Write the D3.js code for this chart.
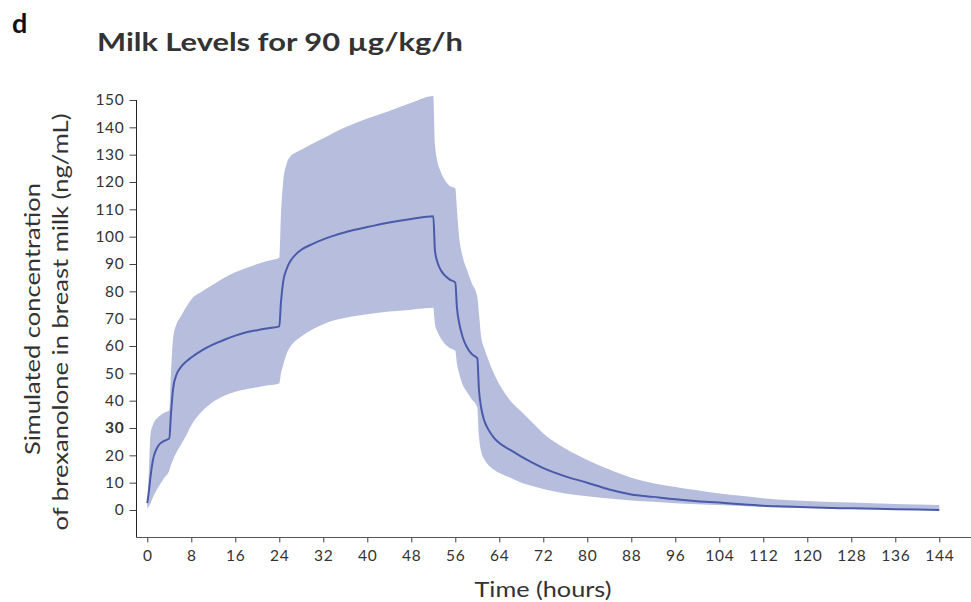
<!DOCTYPE html>
<html><head><meta charset="utf-8">
<script src="https://cdn.jsdelivr.net/npm/d3@7/dist/d3.min.js"></script>
<style>
html,body{margin:0;padding:0;background:#fff;}
svg{display:block;font-family:Lato,"Open Sans",sans-serif;}
</style></head>
<body>
<svg id="c" width="971" height="602"></svg>
<script>
// Time grid (hours)
const timeHours = [0,0.3,0.6,1,2,3,4,4.3,4.7,5.3,6,7,8,10,12,14,16,18,20,22,24,24.3,24.7,25.3,26,27,28,30,32,36,40,44,48,52,52.3,52.7,53.3,54,55,56,56.3,56.7,57.3,58,59,60,60.3,60.7,61.3,62,63,64,66,68,70,72,76,80,84,88,92,96,100,104,108,112,116,120,128,136,144];
// Mean simulated concentration (ng/mL)
const meanConc = [2.5,7,12.5,18,23.5,25.2,26.2,35,44.5,49.5,52,54.2,55.8,58.5,60.6,62.3,63.8,65,65.8,66.5,67.2,76,83.5,88,91,93.5,95.2,97.3,99,101.6,103.5,105.2,106.5,107.5,95,91,88,86,84.3,83.2,74,68.5,63.5,60,57,55.5,44,37.5,32.5,29.5,26.5,24.5,22,19.5,17.3,15.3,12.3,10,7.5,5.7,4.8,3.9,3.2,2.7,2.1,1.6,1.3,1.0,0.6,0.3,0];
// Upper bound of band
const upperConc = [2.5,15,28,31,34,35.5,36.5,50,63,68,70.5,74,77,80,82.5,85,87,88.5,90,91.2,92.3,108,120,126.5,129.3,130.8,131.8,134,136,140,143.2,146,149,151.5,134,128,124,121,118.5,117.7,110,100,93,88.5,83,78,72,63.5,59,55,50,46,40,36,32,28,22.5,18.3,14.8,11.8,9.8,8.4,7.2,6,5.2,4.3,3.7,3.3,2.7,2.2,1.8];
// Lower bound of band
const lowerConc = [0.5,1.5,2.5,4.5,8.3,11.5,14.5,16.5,18.5,21,23.5,27,31,36.2,39.6,41.8,43.3,44.2,44.9,45.6,46.3,50,53,57,59.7,62,63.5,66,68,70.3,71.6,72.6,73.3,74,68,65.5,63,61,59.3,58.3,53.5,50,46,43.5,40.5,37.5,27,21.5,18.5,16.5,14.8,13.5,11.8,10,8.8,7.7,6,5,4.2,3.5,3,2.5,2.1,1.8,1.5,1.2,0.9,0.7,0.4,0.2,0.1];
const xTicks = d3.range(0,145,8);
const yTicks = d3.range(0,151,10);

const svg = d3.select("#c");
const x = d3.scaleLinear().domain([0,144]).range([147.3,939.3]);
const y = d3.scaleLinear().domain([0,150]).range([510,100]);

const rows = timeHours.map((t,i)=>({t, m:meanConc[i], lo:lowerConc[i], hi:upperConc[i]}));

// band
svg.append("path").datum(rows)
  .attr("fill","#b7bedd")
  .attr("d", d3.area().x(d=>x(d.t)).y0(d=>y(d.lo)).y1(d=>y(d.hi)).curve(d3.curveMonotoneX));
// mean line
svg.append("path").datum(rows)
  .attr("fill","none").attr("stroke","#4a5aab").attr("stroke-width",2)
  .attr("d", d3.line().x(d=>x(d.t)).y(d=>y(d.m)).curve(d3.curveMonotoneX));

// y axis
const yAx = svg.append("g").attr("transform","translate(136.5,0)")
  .call(d3.axisLeft(y).tickValues(yTicks).tickSize(7).tickPadding(5).tickSizeOuter(0));
yAx.select(".domain").attr("d","M0,100V537.5").attr("stroke","#222");
yAx.selectAll(".tick line").attr("stroke","#444");
yAx.selectAll(".tick text").attr("font-size",15.5).attr("letter-spacing",0.7).attr("fill","#333").attr("font-family","Lato,sans-serif")
  .attr("font-weight", d=> d===30 ? 700 : 400);

// x axis
const xAx = svg.append("g").attr("transform","translate(0,537.5)")
  .call(d3.axisBottom(x).tickValues(xTicks).tickSize(5).tickPadding(7).tickSizeOuter(0));
xAx.select(".domain").attr("d","M136.5,0H971").attr("stroke","#555");
xAx.selectAll(".tick line").attr("stroke","#444");
xAx.selectAll(".tick text").attr("font-size",15.5).attr("letter-spacing",0.7).attr("fill","#333").attr("font-family","Lato,sans-serif");

// titles
svg.append("text").attr("x",12).attr("y",33).attr("font-size",27).attr("font-weight",700).attr("fill","#111").text("d");
svg.append("text").attr("x",97).attr("y",51).attr("font-size",25).attr("font-weight",700).attr("fill","#333")
  .attr("textLength",366).attr("lengthAdjust","spacingAndGlyphs").text("Milk Levels for 90 µg/kg/h");

// axis labels
svg.append("text").attr("x",543).attr("y",597).attr("text-anchor","middle").attr("font-size",22).attr("fill","#333")
  .attr("textLength",137).attr("lengthAdjust","spacingAndGlyphs").text("Time (hours)");
const yl = svg.append("g").attr("transform","translate(0,322) rotate(-90)");
yl.append("text").attr("x",3).attr("y",40).attr("text-anchor","middle").attr("font-size",22).attr("fill","#333")
  .attr("textLength",272).attr("lengthAdjust","spacingAndGlyphs").text("Simulated concentration");
yl.append("text").attr("x",0).attr("y",68).attr("text-anchor","middle").attr("font-size",22).attr("fill","#333")
  .attr("textLength",417).attr("lengthAdjust","spacingAndGlyphs").text("of brexanolone in breast milk (ng/mL)");
</script>
</body></html>
